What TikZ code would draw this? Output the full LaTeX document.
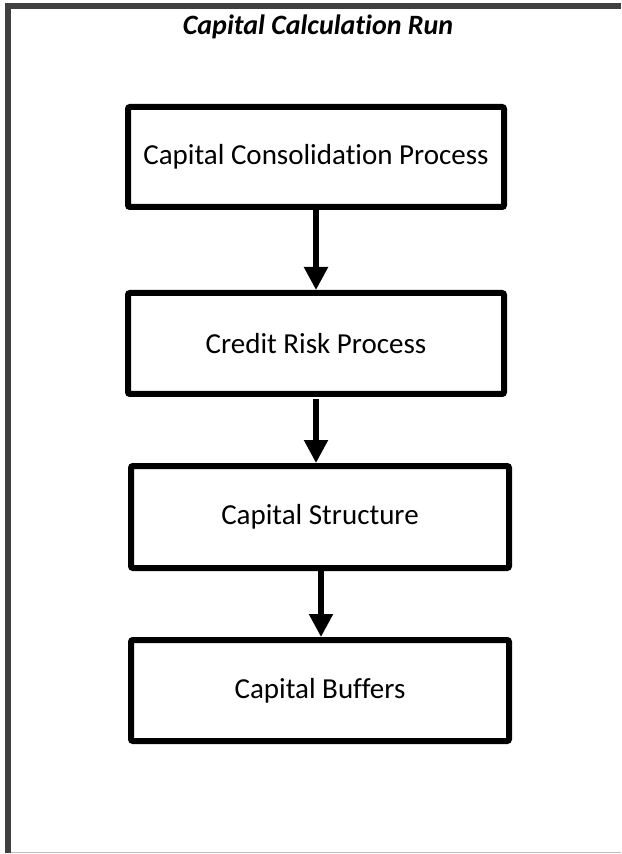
\documentclass[tikz,border=0pt]{standalone}
\usepackage{fontspec}
\setmainfont{Carlito}[Ligatures={NoCommon,NoContextual}]
\usetikzlibrary{arrows.meta}
\definecolor{framegray}{HTML}{404040}
\definecolor{edgegray}{HTML}{BFBFBF}
\tikzset{
  procbox/.style={draw=black, line width=3pt, rounded corners=1pt, fill=white,
    font=\fontsize{14.5pt}{17pt}\selectfont, align=center, inner sep=0pt},
  flowarrow/.style={draw=black, line width=2.6pt, -{Triangle[width=11.5pt,length=11.5pt]}},
  titletext/.style={font=\fontsize{14pt}{17pt}\selectfont\bfseries\itshape, inner sep=0pt}
}
\begin{document}
\begin{tikzpicture}[x=0.5pt,y=-0.5pt]
\useasboundingbox (0,0) rectangle (621,854);
% frame
\draw[framegray, line width=3pt] (8,853) -- (8,6.3) -- (621,6.3);
\draw[edgegray, line width=0.8pt] (11,852.5) -- (621,852.5);
% title
\node[titletext, anchor=base] (title) at (318,35) {Capital Calculation Run};
% boxes
\node[procbox, minimum width=376*0.5pt, minimum height=100*0.5pt] (b1) at (316,157) {Capital Consolidation Process};
\node[procbox, minimum width=376*0.5pt, minimum height=101*0.5pt] (b2) at (316,343.5) {Credit Risk Process};
\node[procbox, minimum width=378*0.5pt, minimum height=102*0.5pt] (b3) at (320,517) {Capital Structure};
\node[procbox, minimum width=378*0.5pt, minimum height=101*0.5pt] (b4) at (320,690.5) {Capital Buffers};
% arrows
\draw[flowarrow] (b1.south) -- (b2.north);
\draw[flowarrow, shorten <=1pt] (b2.south) -- (b2.south |- b3.north);
\draw[flowarrow] ([xshift=0.5pt]b3.south) -- ([xshift=0.5pt]b4.north);
\end{tikzpicture}
\end{document}
